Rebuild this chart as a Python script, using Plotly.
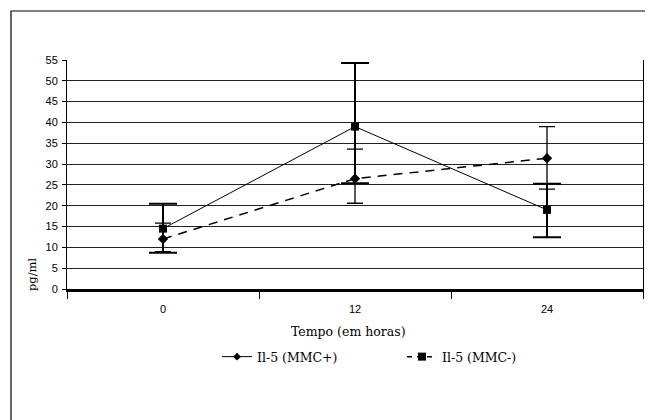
import plotly.graph_objects as go

# ---- data ----
hours = ["0", "12", "24"]
mmc_plus = [12.0, 26.5, 31.4]          # diamonds
mmc_plus_err_up = [3.8, 7.1, 7.6]
mmc_plus_err_dn = [3.0, 5.9, 7.4]
mmc_minus = [14.5, 39.0, 19.0]         # squares
mmc_minus_err_up = [6.0, 15.3, 6.3]
mmc_minus_err_dn = [5.8, 13.6, 6.6]
y_ticks = list(range(0, 56, 5))

W, H = 653, 420
OFF = 8  # page body margin
# target plot area in page pixels: x 67..643, y 60..289
L, R, T, B = 67 - OFF, W - 643 + OFF, 60 - OFF, H - 289 + OFF
PW, PH = W - L - R, H - T - B

SERIF = "DejaVu Serif, Liberation Serif, serif"


def px(x):  # page pixel -> paper
    return (x - OFF - L) / PW


def py(y):
    return (H - B - (y - OFF)) / PH


fig = go.Figure()

# series drawn as in the picture
fig.add_trace(go.Scatter(
    x=hours, y=mmc_minus, mode="lines+markers", showlegend=False,
    line=dict(color="black", width=1),
    marker=dict(symbol="square", size=8, color="black"),
    error_y=dict(type="data", symmetric=False, array=mmc_minus_err_up,
                 arrayminus=mmc_minus_err_dn, color="black", thickness=2, width=14),
))
fig.add_trace(go.Scatter(
    x=hours, y=mmc_plus, mode="lines+markers", showlegend=False,
    line=dict(color="black", width=1.5, dash="9px,7px"),
    marker=dict(symbol="diamond", size=8, color="black"),
    error_y=dict(type="data", symmetric=False, array=mmc_plus_err_up,
                 arrayminus=mmc_plus_err_dn, color="black", thickness=1.3, width=8),
))

# legend entries
fig.add_trace(go.Scatter(
    x=[None], y=[None], mode="lines+markers", name="Il-5 (MMC+)",
    line=dict(color="black", width=1),
    marker=dict(symbol="diamond", size=6, color="black"),
))
fig.add_trace(go.Scatter(
    x=[None], y=[None], mode="lines+markers", name="Il-5 (MMC-)",
    line=dict(color="black", width=1.5, dash="5px,5px"),
    marker=dict(symbol="square", size=8, color="black"),
))

fig.update_layout(
    width=W, height=H,
    margin=dict(l=L, r=R, t=T, b=B, autoexpand=False),
    paper_bgcolor="white", plot_bgcolor="white",
    font=dict(family="Liberation Sans, Arial, sans-serif", size=11, color="black"),
    legend=dict(orientation="h", x=px(217), y=py(357), xanchor="left", yanchor="middle",
                font=dict(family=SERIF, size=12.5),
                bgcolor="rgba(0,0,0,0)", itemwidth=30, entrywidth=140),
    xaxis=dict(type="category", categoryorder="array", categoryarray=hours,
               tickson="boundaries", ticks="outside", ticklen=7, tickcolor="black",
               showgrid=False, showline=True, linecolor="black", linewidth=2.5,
               tickfont=dict(size=11), range=[-0.5, 2.5], ticklabelstandoff=8),
    yaxis=dict(range=[0, 55], tickvals=y_ticks, ticks="outside", ticklen=4,
               tickcolor="black", showgrid=True, gridcolor="#222222", gridwidth=1.2,
               showline=True, linecolor="black", linewidth=1, mirror=True,
               zeroline=True, zerolinecolor="black", zerolinewidth=3,
               tickfont=dict(size=11), ticklabelstandoff=2),
    annotations=[
        dict(text="Tempo (em horas)", x=px(348), y=py(331), xref="paper", yref="paper",
             showarrow=False, xanchor="center", yanchor="middle",
             font=dict(family=SERIF, size=12.5)),
        dict(text="pg/ml", x=px(32), y=py(274), xref="paper", yref="paper",
             showarrow=False, xanchor="center", yanchor="middle", textangle=-90,
             font=dict(family=SERIF, size=11.5)),
    ],
    shapes=[
        dict(type="rect", xref="paper", yref="paper",
             x0=px(11), x1=px(700), y0=py(11), y1=py(480),
             line=dict(color="black", width=1.2), fillcolor="rgba(0,0,0,0)", layer="below"),
    ],
)

fig.write_html("out.html")
